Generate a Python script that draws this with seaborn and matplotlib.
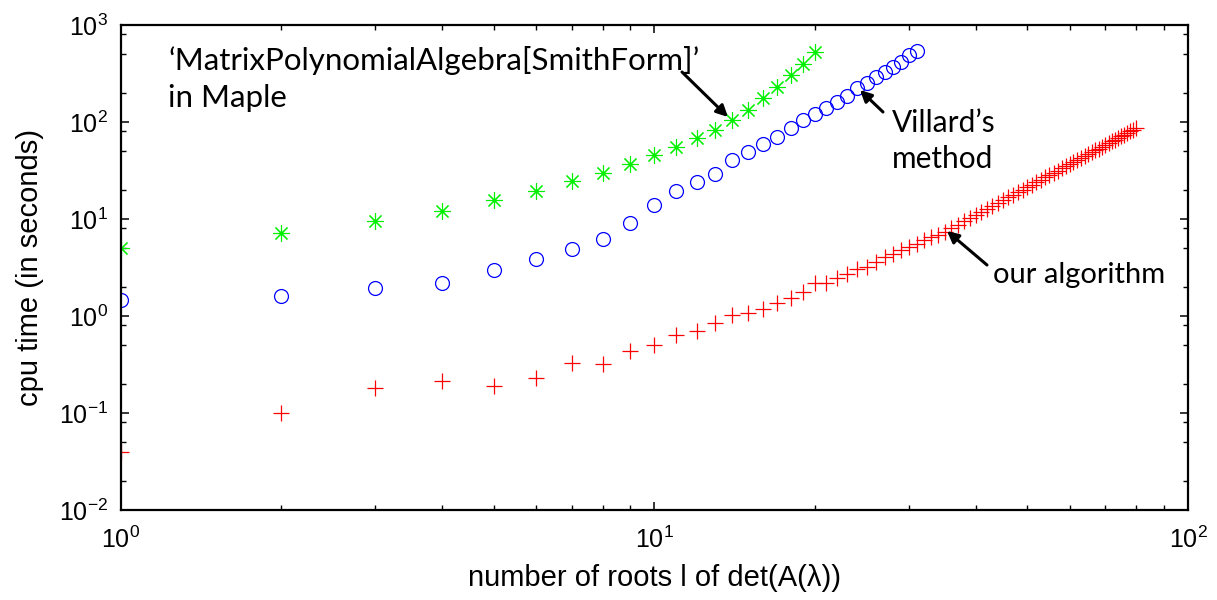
import numpy as np
import pandas as pd
import matplotlib
matplotlib.use("Agg")
import matplotlib.pyplot as plt
import seaborn as sns
from matplotlib.ticker import LogLocator, NullFormatter

# ---- data ----
maple_x = list(range(1, 21))
maple_y = [5.06, 7.22, 9.47, 12.2, 15.6, 19.6, 24.5, 30.0, 36.9, 46.0,
           55.6, 68.4, 82.7, 105, 133, 177, 231, 305, 396, 530]

villard_x = list(range(1, 32))
villard_y = [1.46, 1.61, 1.93, 2.19, 2.98, 3.84, 4.91, 6.27, 9.10, 14.0,
             19.6, 23.9, 28.9, 40.6, 49.4, 58.9, 69.5, 86.7, 105, 120,
             138, 162, 185, 222, 251, 293, 330, 372, 418, 491, 543]

ours_x = list(range(1, 81))
ours_y = [0.0394, 0.100, 0.182, 0.214, 0.190, 0.228, 0.325, 0.320, 0.439, 0.502,
          0.637, 0.705, 0.853, 1.02, 1.07, 1.18, 1.37, 1.54, 1.75, 2.17,
          2.20, 2.45, 2.71, 3.03, 3.22, 3.63, 4.04, 4.40, 4.77, 5.17,
          5.58, 6.01, 6.45, 6.92, 7.40, 8.04, 8.73, 9.44, 10.2, 11.0,
          11.8, 12.7, 13.6, 14.6, 15.6, 16.7, 17.8, 18.9, 20.1, 21.3,
          22.6, 24.0, 25.4, 26.8, 28.3, 29.9, 31.5, 33.2, 34.9, 36.7,
          38.5, 40.4, 42.4, 44.4, 46.5, 48.7, 50.9, 53.2, 55.5, 58.0,
          60.5, 63.0, 65.7, 68.4, 71.2, 74.0, 76.9, 79.9, 83.0, 86.2]

x_label = "number of roots l of det(A(\u03bb))"
y_label = "cpu time (in seconds)"
maple_text = ["\u2018MatrixPolynomialAlgebra[SmithForm]\u2019", "in Maple"]
villard_text = ["Villard\u2019s", "method"]
ours_text = "our algorithm"

# ---- style ----
sns.set_theme(style="ticks")
plt.rcParams["font.family"] = ["Liberation Sans", "DejaVu Sans"]
plt.rcParams["axes.unicode_minus"] = False
plt.rcParams["mathtext.default"] = "regular"
plt.rcParams["text.color"] = "black"
plt.rcParams["axes.labelcolor"] = "black"

W, H = 1217, 600
fig = plt.figure(figsize=(W / 100, H / 100), dpi=100)
L, R, T, B = 120.7, 1188, 25, 510
ax = fig.add_axes([L / W, 1 - B / H, (R - L) / W, (B - T) / H])

df_m = pd.DataFrame({"x": maple_x, "y": maple_y})
df_v = pd.DataFrame({"x": villard_x, "y": villard_y})
df_o = pd.DataFrame({"x": ours_x, "y": ours_y})

GREEN, BLUE, RED = "#00f000", "#0000ff", "#ff0000"
sns.lineplot(data=df_m, x="x", y="y", ax=ax, estimator=None, linestyle="none",
             marker=(8, 2, 0), markersize=12, markeredgewidth=0.8,
             color=GREEN, markeredgecolor=GREEN)
sns.lineplot(data=df_v, x="x", y="y", ax=ax, estimator=None, linestyle="none",
             marker="o", markersize=10, markeredgewidth=0.9,
             markerfacecolor="none", color=BLUE, markeredgecolor=BLUE)
sns.lineplot(data=df_v, x="x", y="y", ax=ax, estimator=None, linestyle="none",
             marker=".", markersize=1.2, color=BLUE)
sns.lineplot(data=df_o, x="x", y="y", ax=ax, estimator=None, linestyle="none",
             marker="+", markersize=11, markeredgewidth=0.9,
             color=RED, markeredgecolor=RED)

ax.set_xscale("log")
ax.set_yscale("log")
ax.set_xlim(1, 100)
ax.set_ylim(1e-2, 1e3)

ax.xaxis.set_major_locator(LogLocator(base=10, numticks=10))
ax.xaxis.set_minor_locator(LogLocator(base=10, subs=np.arange(2, 10), numticks=20))
ax.yaxis.set_major_locator(LogLocator(base=10, numticks=10))
ax.yaxis.set_minor_locator(LogLocator(base=10, subs=[2, 5, 8], numticks=20))
ax.xaxis.set_minor_formatter(NullFormatter())
ax.yaxis.set_minor_formatter(NullFormatter())

ax.tick_params(which="both", direction="in", top=True, right=True, colors="black")
ax.tick_params(which="major", length=6, width=1.1, labelsize=18)
ax.tick_params(axis="x", which="major", pad=12)
ax.tick_params(axis="y", which="major", pad=9)
ax.tick_params(which="minor", length=3.5, width=1.0)
for s in ax.spines.values():
    s.set_linewidth(1.6)
    s.set_color("black")

ax.set_xlabel(x_label, fontsize=21, labelpad=8)
ax.set_ylabel(y_label, fontsize=21, labelpad=11)

# ---- annotations ----
def px2data(px, py):
    return (10 ** ((px - L) / ((R - L) / 2)), 10 ** (3 - (py - T) / ((B - T) / 5)))

arrow = dict(arrowstyle="-|>", color="black", lw=2.2, mutation_scale=17,
             shrinkA=0, shrinkB=0)
ax.annotate("", xy=px2data(728, 117), xytext=px2data(682, 72), arrowprops=arrow)
ax.annotate("", xy=px2data(860, 90), xytext=px2data(883, 112), arrowprops=arrow)
ax.annotate("", xy=px2data(947, 231), xytext=px2data(987, 265), arrowprops=arrow)

afont = dict(family=["Lato", "DejaVu Sans"], color="black", va="baseline")
fig.text(168 / W, 1 - 70 / H, maple_text[0], fontsize=22.5, **afont)
fig.text(168 / W, 1 - 107 / H, maple_text[1], fontsize=22.5, **afont)
fig.text(892 / W, 1 - 132 / H, villard_text[0], fontsize=21.5, **afont)
fig.text(892 / W, 1 - 168 / H, villard_text[1], fontsize=21.5, **afont)
fig.text(993 / W, 1 - 283 / H, ours_text, fontsize=21, **afont)

fig.savefig("out.png", dpi=100)
